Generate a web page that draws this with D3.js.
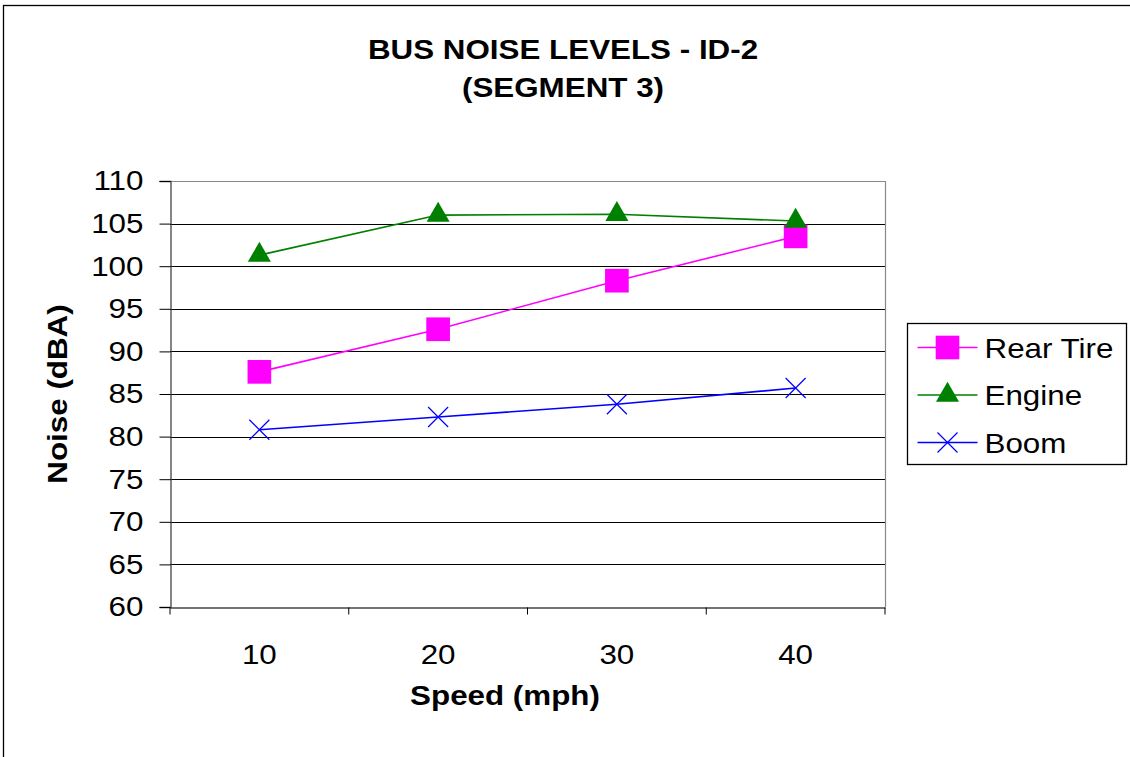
<!DOCTYPE html>
<html>
<head>
<meta charset="utf-8">
<title>Bus Noise Levels</title>
<script src="https://cdn.jsdelivr.net/npm/d3@7"></script>
<style>
  body { margin: 0; background: #fff; }
  svg text { font-family: "Liberation Sans", Arial, sans-serif; fill: #000; }
</style>
</head>
<body>
<script>
// data
var speeds = ["10", "20", "30", "40"];
var rearTire = [87.6, 92.6, 98.3, 103.5];
var engine = [101.3, 106.0, 106.1, 105.3];
var boom = [80.8, 82.3, 83.8, 85.7];
var yTicks = [60, 65, 70, 75, 80, 85, 90, 95, 100, 105, 110];

var series = [
  {name: "Rear Tire", values: rearTire, color: "#ff00ff", marker: "square"},
  {name: "Engine", values: engine, color: "#008000", marker: "triangle"},
  {name: "Boom", values: boom, color: "#0000ff", marker: "cross"}
];

var width = 1130, height = 757;
var margins = {top: 181, left: 170, right: 245, bottom: 150};
var sx = 1.12; // the original text is a bit wider than Arial

var svg = d3.select("body").append("svg")
    .attr("width", width)
    .attr("height", height);

// outer chart frame (runs off the right and bottom edges)
svg.append("rect")
    .attr("x", 3.5).attr("y", 5.5)
    .attr("width", width + 20).attr("height", height + 20)
    .attr("fill", "none").attr("stroke", "#000").attr("stroke-width", 1.3);

var x = d3.scaleBand().domain(speeds).range([margins.left, width - margins.right]);
var y = d3.scaleLinear().domain([60, 110]).range([height - margins.bottom, margins.top]);

// horizontal gridlines
svg.append("g").selectAll("line")
    .data(yTicks.slice(1))
    .enter().append("line")
    .attr("x1", x.range()[0]).attr("x2", x.range()[1])
    .attr("y1", function (d) { return Math.round(y(d)) + 0.5; })
    .attr("y2", function (d) { return Math.round(y(d)) + 0.5; })
    .attr("stroke", function (d) { return d === 110 ? "#888" : "#000"; })
    .attr("stroke-width", 1.2);

// right border of plot
svg.append("line")
    .attr("x1", x.range()[1] + 0.5).attr("x2", x.range()[1] + 0.5)
    .attr("y1", y(110)).attr("y2", y(60))
    .attr("stroke", "#888").attr("stroke-width", 1.2);

// y axis
var yAxis = d3.axisLeft(y).tickValues(yTicks).tickSize(11).tickPadding(16);
var yG = svg.append("g")
    .attr("transform", "translate(" + (x.range()[0] + 0.5) + ",0)")
    .call(yAxis);
yG.selectAll("text")
    .style("font-size", "28px")
    .attr("x", -27 / sx)
    .attr("transform", "scale(" + sx + ",1)");

// x axis - ticks between categories like excel
var xAxis = d3.axisBottom(x).tickSize(0).tickPadding(37);
var xG = svg.append("g")
    .attr("transform", "translate(0," + (Math.round(y(60)) + 0.5) + ")")
    .call(xAxis);
xG.selectAll("text")
    .style("font-size", "28px")
    .attr("transform", "scale(" + sx + ",1)");
xG.selectAll(".bnd")
    .data(d3.range(speeds.length + 1))
    .enter().append("line")
    .attr("x1", function (i) { return x.range()[0] + i * x.step(); })
    .attr("x2", function (i) { return x.range()[0] + i * x.step(); })
    .attr("y1", 0).attr("y2", 7)
    .attr("stroke", "#000");

svg.selectAll(".domain").attr("stroke", "#444").attr("stroke-width", 1.3);

function cx(i) { return x(speeds[i]) + x.bandwidth() / 2; }

var symSquare = d3.symbol().type(d3.symbolSquare).size(560);
var symTri = d3.symbol().type(d3.symbolTriangle).size(230);

function drawMarker(g, kind, color) {
  if (kind === "square") {
    g.append("path").attr("d", symSquare()).attr("fill", color);
  } else if (kind === "triangle") {
    g.append("path").attr("d", symTri()).attr("fill", color);
  } else {
    g.append("path").attr("d", "M-10,-10L10,10M-10,10L10,-10")
        .attr("stroke", color).attr("stroke-width", 1.2).attr("fill", "none");
  }
}

var line = d3.line()
    .x(function (d, i) { return cx(i); })
    .y(function (d) { return y(d); });

// draw back to front: boom, rear tire, engine
[series[2], series[0], series[1]].forEach(function (s) {
  svg.append("path")
      .datum(s.values)
      .attr("d", line)
      .attr("fill", "none")
      .attr("stroke", s.color)
      .attr("stroke-width", 1.6);
  s.values.forEach(function (v, i) {
    var g = svg.append("g").attr("transform", "translate(" + cx(i) + "," + y(v) + ")");
    drawMarker(g, s.marker, s.color);
  });
});

// text stretched a little horizontally
function label(px, py, str, bold, anchor, rot) {
  return svg.append("text")
      .attr("transform", "translate(" + px + "," + py + ")" +
            (rot ? " rotate(" + rot + ")" : "") + " scale(" + sx + ",1)")
      .attr("text-anchor", anchor || "middle")
      .style("font-size", "28px")
      .style("font-weight", bold ? "bold" : "normal")
      .text(str);
}

// title
label(563, 59, "BUS NOISE LEVELS - ID-2", true);
label(563, 97, "(SEGMENT 3)", true);

// axis titles
label(505, 705, "Speed (mph)", true);
label(67, 394, "Noise (dBA)", true, "middle", -90);

// legend
var lx = 907.5, ly = 323.5;
svg.append("rect")
    .attr("x", lx).attr("y", ly)
    .attr("width", 219).attr("height", 141)
    .attr("fill", "#fff").attr("stroke", "#000").attr("stroke-width", 1.3);
series.forEach(function (s, i) {
  var ry = ly + 24 + i * 47.5;
  svg.append("line")
      .attr("x1", lx + 10).attr("x2", lx + 70)
      .attr("y1", ry).attr("y2", ry)
      .attr("stroke", s.color).attr("stroke-width", 1.6);
  var m = svg.append("g").attr("transform", "translate(" + (lx + 40) + "," + ry + ")");
  drawMarker(m, s.marker, s.color);
  label(lx + 77, ry + 10, s.name, false, "start");
});
</script>
</body>
</html>
